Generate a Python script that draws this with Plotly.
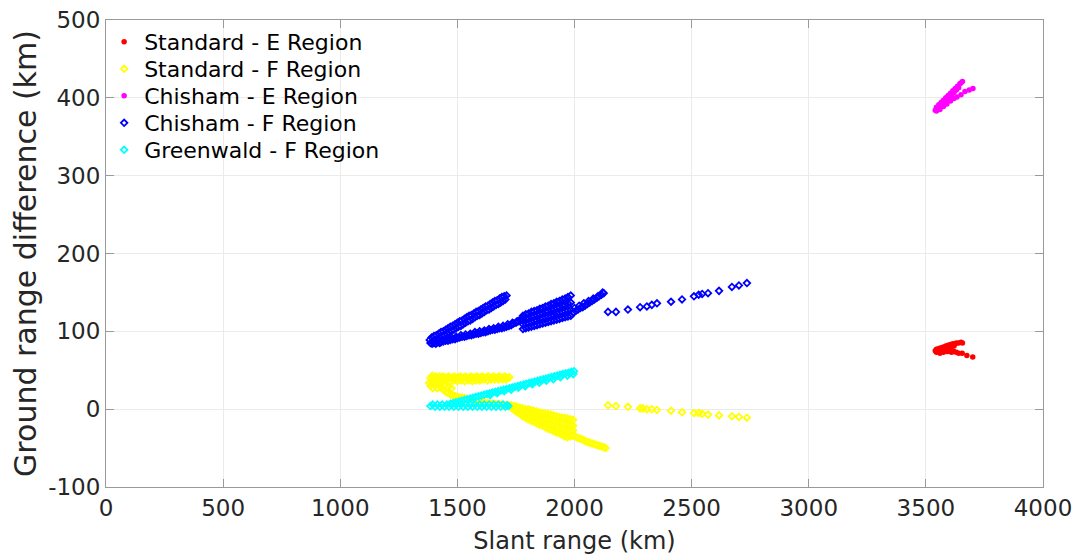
import plotly.graph_objects as go

# ---------------- data (slant range km, ground range difference km) ----------------
# Standard - E Region
std_e_pts = [(3540, 75), (3545, 77), (3550, 74), (3555, 78), (3560, 75), (3565, 79), (3570, 76),
             (3575, 80), (3580, 77), (3585, 81), (3590, 78), (3595, 82), (3600, 79), (3605, 83),
             (3610, 80), (3615, 84), (3620, 81), (3625, 84), (3630, 85), (3640, 85), (3650, 86),
             (3656, 85), (3545, 73), (3560, 72), (3575, 73), (3590, 74), (3600, 74), (3610, 73),
             (3620, 74), (3630, 73), (3640, 72), (3655, 72), (3675, 69), (3700, 67)]

# Standard - F Region
std_f_upper = [(1385, 40), (1393, 43), (1400, 41), (1408, 42), (1416, 40), (1424, 42), (1432, 41),
               (1440, 42), (1448, 40), (1456, 41), (1464, 42), (1472, 40), (1480, 41), (1488, 42),
               (1496, 40), (1504, 41), (1512, 42), (1520, 40), (1528, 41), (1536, 42), (1544, 40),
               (1552, 41), (1560, 42), (1568, 40), (1576, 41), (1584, 42), (1592, 40), (1600, 41),
               (1608, 42), (1616, 40), (1624, 41), (1632, 42), (1640, 40), (1648, 41), (1656, 42),
               (1664, 40), (1672, 41), (1680, 42), (1688, 40), (1696, 41), (1704, 42), (1712, 40),
               (1722, 41),
               (1404, 36), (1420, 37), (1436, 36), (1452, 37), (1468, 36), (1484, 37), (1500, 36),
               (1516, 37), (1532, 36), (1548, 37), (1564, 36), (1580, 37), (1596, 37), (1612, 38),
               (1628, 37), (1644, 38), (1660, 38), (1676, 38), (1692, 38), (1708, 38)]
std_f_blob = [(1380, 34), (1385, 30), (1390, 36), (1395, 27), (1400, 33), (1405, 30), (1410, 36),
              (1415, 27), (1420, 33), (1428, 29), (1436, 26), (1444, 24), (1452, 22), (1460, 21),
              (1470, 19), (1480, 18), (1430, 32), (1445, 30), (1460, 28), (1475, 27)]
std_f_lower = [(1490, 17), (1500, 16), (1510, 15), (1520, 15), (1530, 14), (1540, 13), (1550, 12),
               (1560, 12), (1570, 11), (1580, 10), (1590, 10), (1600, 9), (1610, 9), (1620, 8),
               (1630, 8), (1640, 7), (1650, 7), (1660, 7), (1670, 6), (1680, 6), (1690, 6),
               (1700, 5), (1710, 5), (1720, 5)]
std_f_desc = [(1730, 5), (1742, 4), (1754, 3), (1766, 2), (1778, 1), (1790, 0), (1802, 0),
              (1814, -1), (1826, -2), (1838, -3), (1850, -4), (1862, -5), (1874, -6), (1886, -6),
              (1898, -7), (1910, -8), (1922, -9), (1934, -10), (1946, -11), (1958, -11),
              (1970, -12), (1982, -13), (1994, -14),
              (1730, 4), (1742, 2), (1754, 1), (1766, -1), (1778, -2), (1790, -4), (1802, -4),
              (1814, -6), (1826, -7), (1838, -8), (1850, -9), (1862, -10), (1874, -12),
              (1886, -12), (1898, -13), (1910, -15), (1922, -16), (1934, -17), (1946, -18),
              (1958, -19), (1970, -20), (1982, -21), (1994, -21),
              (1730, 3), (1742, 1), (1754, -2), (1766, -3), (1778, -6), (1790, -7), (1802, -9),
              (1814, -10), (1826, -11), (1838, -13), (1850, -15), (1862, -16), (1874, -17),
              (1886, -19), (1898, -20), (1910, -21), (1922, -23), (1934, -24), (1946, -26),
              (1958, -27), (1970, -28), (1982, -28), (1994, -27),
              (1730, 2), (1742, -1), (1754, -4), (1766, -6), (1778, -9), (1790, -11),
              (1802, -13), (1814, -15), (1826, -16), (1838, -18), (1850, -20), (1862, -21),
              (1874, -23), (1886, -25), (1898, -26), (1910, -28), (1922, -30), (1934, -31),
              (1946, -33), (1958, -35), (1970, -36), (1982, -35), (1994, -34)]
std_f_tail = [(2005, -35), (2015, -37), (2025, -38), (2035, -39), (2045, -41), (2055, -42),
              (2065, -43), (2075, -44), (2085, -45), (2095, -46), (2105, -47), (2115, -48),
              (2125, -49), (2132, -50)]
std_f_sparse = [(2143, 5), (2177, 4), (2228, 3), (2280, 1), (2292, 1), (2309, 0), (2330, 0),
                (2352, -1), (2412, -2), (2459, -4), (2510, -5), (2530, -5), (2545, -6),
                (2570, -7), (2617, -8), (2672, -9), (2702, -10), (2736, -11)]

# Chisham - E Region
chi_e_pts = [(3540, 384), (3545, 388), (3550, 386), (3555, 391), (3560, 388), (3565, 394),
             (3570, 391), (3575, 397), (3580, 394), (3585, 400), (3590, 397), (3595, 403),
             (3600, 400), (3605, 406), (3610, 403), (3615, 409), (3620, 407), (3625, 412),
             (3630, 410), (3635, 415), (3640, 413), (3645, 418), (3650, 419), (3656, 421),
             (3545, 383), (3560, 385), (3575, 389), (3590, 392), (3605, 396), (3620, 399),
             (3633, 401), (3650, 404), (3667, 408), (3685, 410), (3701, 412)]

# Chisham - F Region
chi_f_upper = [(1390, 92), (1400, 94), (1410, 95), (1420, 97), (1430, 99), (1440, 100), (1450, 102),
               (1460, 104), (1470, 106), (1480, 107), (1490, 109), (1500, 111), (1510, 113),
               (1520, 114), (1530, 116), (1540, 118), (1550, 120), (1560, 121), (1570, 123),
               (1580, 125), (1590, 126), (1600, 128), (1610, 130), (1620, 132), (1630, 133),
               (1640, 135), (1650, 137), (1660, 139), (1670, 140), (1680, 142), (1690, 144),
               (1700, 145), (1710, 146),
               (1395, 87), (1405, 89), (1415, 90), (1425, 92), (1435, 94), (1445, 95), (1455, 97),
               (1465, 99), (1475, 101), (1485, 102), (1495, 104), (1505, 106), (1515, 107),
               (1525, 109), (1535, 111), (1545, 113), (1555, 114), (1565, 116), (1575, 118),
               (1585, 120), (1595, 121), (1605, 123), (1615, 125), (1625, 127), (1635, 128),
               (1645, 130), (1655, 132), (1665, 134), (1675, 135), (1685, 137), (1695, 139),
               (1705, 141)]
chi_f_blob = [(1382, 89), (1385, 85), (1392, 84), (1400, 85), (1408, 84), (1416, 86), (1424, 85),
              (1400, 88), (1412, 87)]
chi_f_lower = [(1430, 86), (1440, 87), (1450, 88), (1460, 88), (1470, 89), (1480, 90), (1490, 90),
               (1500, 91), (1510, 92), (1520, 93), (1530, 93), (1540, 94), (1550, 95), (1560, 95),
               (1570, 96), (1580, 97), (1590, 97), (1600, 98), (1610, 99), (1620, 99), (1630, 100),
               (1640, 101), (1650, 102), (1660, 102), (1670, 103), (1680, 104), (1690, 104),
               (1700, 105), (1710, 106), (1720, 107), (1730, 108), (1740, 110), (1750, 111),
               (1760, 113), (1770, 114), (1780, 116),
               (1435, 89), (1455, 90), (1475, 92), (1495, 93), (1515, 95), (1535, 96), (1555, 97),
               (1575, 99), (1595, 100), (1615, 101), (1635, 103), (1655, 104), (1675, 106),
               (1695, 107), (1715, 109), (1735, 111), (1755, 113), (1775, 117)]
chi_f_cluster = [(1780, 103), (1792, 104), (1804, 105), (1816, 106), (1828, 107), (1840, 108),
                 (1852, 109), (1864, 110), (1876, 111), (1888, 112), (1900, 113), (1912, 114),
                 (1924, 115), (1936, 116), (1948, 117), (1960, 118), (1972, 119), (1984, 120),
                 (1780, 109), (1792, 110), (1804, 111), (1816, 112), (1828, 113), (1840, 114),
                 (1852, 116), (1864, 117), (1876, 118), (1888, 119), (1900, 120), (1912, 121),
                 (1924, 123), (1936, 124), (1948, 125), (1960, 126), (1972, 127), (1984, 128),
                 (1780, 114), (1792, 116), (1804, 117), (1816, 119), (1828, 120), (1840, 121),
                 (1852, 122), (1864, 123), (1876, 125), (1888, 126), (1900, 128), (1912, 129),
                 (1924, 130), (1936, 131), (1948, 133), (1960, 134), (1972, 136), (1984, 137),
                 (1780, 120), (1792, 122), (1804, 123), (1816, 125), (1828, 126), (1840, 127),
                 (1852, 129), (1864, 130), (1876, 132), (1888, 133), (1900, 135), (1912, 136),
                 (1924, 138), (1936, 139), (1948, 141), (1960, 142), (1972, 144), (1984, 146)]
chi_f_cont = [(1995, 124), (2005, 126), (2015, 128), (2025, 130), (2035, 131), (2045, 133),
              (2055, 135), (2065, 137), (2075, 139), (2085, 141), (2095, 143), (2105, 145),
              (2115, 147), (2125, 149), (2000, 130), (2020, 133), (2040, 136), (2060, 139),
              (2080, 142), (2100, 145), (2120, 150)]
chi_f_sparse = [(2143, 125), (2177, 125), (2228, 128), (2280, 131), (2309, 132), (2330, 134),
                (2352, 136), (2412, 138), (2459, 141), (2510, 145), (2530, 147), (2545, 148),
                (2570, 149), (2617, 152), (2672, 157), (2702, 159), (2736, 162)]

# Greenwald - F Region
grw_f_band = [(1385, 4), (1395, 6), (1405, 3), (1415, 6), (1425, 3), (1435, 6), (1445, 3),
              (1455, 6), (1465, 3), (1475, 6), (1485, 3), (1495, 6), (1505, 3), (1515, 6),
              (1525, 3), (1535, 6), (1545, 3), (1555, 6), (1565, 3), (1575, 6), (1585, 3),
              (1595, 6), (1605, 3), (1615, 6), (1625, 3), (1635, 6), (1645, 3), (1655, 6),
              (1665, 3), (1675, 6), (1685, 3), (1695, 6), (1705, 3), (1712, 5), (1718, 4)]
grw_f_arm = [(1470, 7.0), (1482, 8.0), (1494, 8.9), (1506, 9.9), (1518, 10.8), (1530, 11.8),
             (1542, 12.7), (1554, 13.7), (1566, 14.6), (1578, 15.6), (1590, 16.5), (1602, 17.5),
             (1614, 18.4), (1626, 19.4), (1638, 20.3), (1650, 21.3), (1662, 22.2), (1674, 23.2),
             (1686, 24.1), (1698, 25.1), (1710, 26.0), (1722, 27.0), (1734, 27.9), (1746, 28.9),
             (1758, 29.8), (1770, 30.8), (1782, 31.7), (1794, 32.7), (1806, 33.6), (1818, 34.6),
             (1830, 35.5), (1842, 36.5), (1854, 37.4), (1866, 38.4), (1878, 39.3), (1890, 40.3),
             (1902, 41.2), (1914, 42.2), (1926, 43.1), (1938, 44.1), (1950, 45.0), (1962, 46.0),
             (1974, 46.9), (1986, 47.9), (1998, 48.8),
             (1640, 18.0), (1670, 20.5), (1700, 23.0), (1730, 25.0), (1760, 27.5), (1790, 29.5),
             (1820, 32.0), (1850, 34.0), (1880, 36.5), (1910, 38.5), (1940, 41.0), (1970, 43.0),
             (1995, 45.0)]

x_ticks = [0, 500, 1000, 1500, 2000, 2500, 3000, 3500, 4000]
y_ticks = [-100, 0, 100, 200, 300, 400, 500]


def xs(*segs):
    return [p[0] for s in segs for p in s]


def ys(*segs):
    return [p[1] for s in segs for p in s]


std_e_x, std_e_y = xs(std_e_pts), ys(std_e_pts)
std_f_segs = (std_f_upper, std_f_blob, std_f_lower, std_f_desc, std_f_tail, std_f_sparse)
std_f_x, std_f_y = xs(*std_f_segs), ys(*std_f_segs)
chi_e_x, chi_e_y = xs(chi_e_pts), ys(chi_e_pts)
chi_f_segs = (chi_f_upper, chi_f_blob, chi_f_lower, chi_f_cluster, chi_f_cont, chi_f_sparse)
chi_f_x, chi_f_y = xs(*chi_f_segs), ys(*chi_f_segs)
grw_f_x, grw_f_y = xs(grw_f_band, grw_f_arm), ys(grw_f_band, grw_f_arm)

# ---------------- figure ----------------
FONT = "DejaVu Sans"
TXT = "#262626"

fig = go.Figure()


def dot(x, y, name, color, leg):
    fig.add_trace(go.Scatter(x=x, y=y, mode="markers", name=name, legend=leg,
                             marker=dict(symbol="circle", size=5.5, color=color,
                                         line=dict(width=0))))


def dia(x, y, name, color, leg):
    fig.add_trace(go.Scatter(x=x, y=y, mode="markers", name=name, legend=leg,
                             marker=dict(symbol="diamond-open", size=5, color=color,
                                         line=dict(width=1.8, color=color))))


dot(std_e_x, std_e_y, "Standard - E Region", "#ff0000", "legend")
dia(std_f_x, std_f_y, "Standard - F Region", "#ffff00", "legend2")
dot(chi_e_x, chi_e_y, "Chisham - E Region", "#ff00ff", "legend3")
dia(chi_f_x, chi_f_y, "Chisham - F Region", "#0000ff", "legend4")
dia(grw_f_x, grw_f_y, "Greenwald - F Region", "#00ffff", "legend5")

axis_common = dict(showline=True, linecolor="#9a9a9a", linewidth=1, mirror="ticks",
                   ticks="inside", ticklen=8, tickcolor="#9a9a9a",
                   showgrid=True, gridcolor="#ebebeb", gridwidth=1, zeroline=False,
                   automargin=False, ticklabeloverflow="allow",
                   tickfont=dict(family=FONT, size=23, color=TXT))

fig.update_xaxes(range=[0, 4000], tickvals=x_ticks, ticktext=[str(v) for v in x_ticks],
                 title=dict(text="Slant range (km)", font=dict(family=FONT, size=24, color=TXT),
                            standoff=12),
                 **axis_common)
fig.update_yaxes(range=[-100, 500], tickvals=y_ticks, ticktext=[str(v) for v in y_ticks],
                 title=dict(text="Ground range difference (km)",
                            font=dict(family=FONT, size=30, color=TXT), standoff=2),
                 **axis_common)

leg_rows = [0.9529, 0.8951, 0.8373, 0.7794, 0.7216]
leg_names = ["legend", "legend2", "legend3", "legend4", "legend5"]
leg_common = dict(x=-0.002, xanchor="left", yanchor="middle", bgcolor="rgba(0,0,0,0)",
                  borderwidth=0, font=dict(family=FONT, size=22, color="#000000"),
                  itemsizing="trace")
legend_layout = {n: dict(y=yv, **leg_common) for n, yv in zip(leg_names, leg_rows)}

fig.update_layout(
    width=1081, height=560,
    margin=dict(l=98, r=46, t=12, b=81),
    plot_bgcolor="white", paper_bgcolor="white",
    font=dict(family=FONT, color=TXT),
    showlegend=True,
    **legend_layout,
)

fig.write_html("out.html")
